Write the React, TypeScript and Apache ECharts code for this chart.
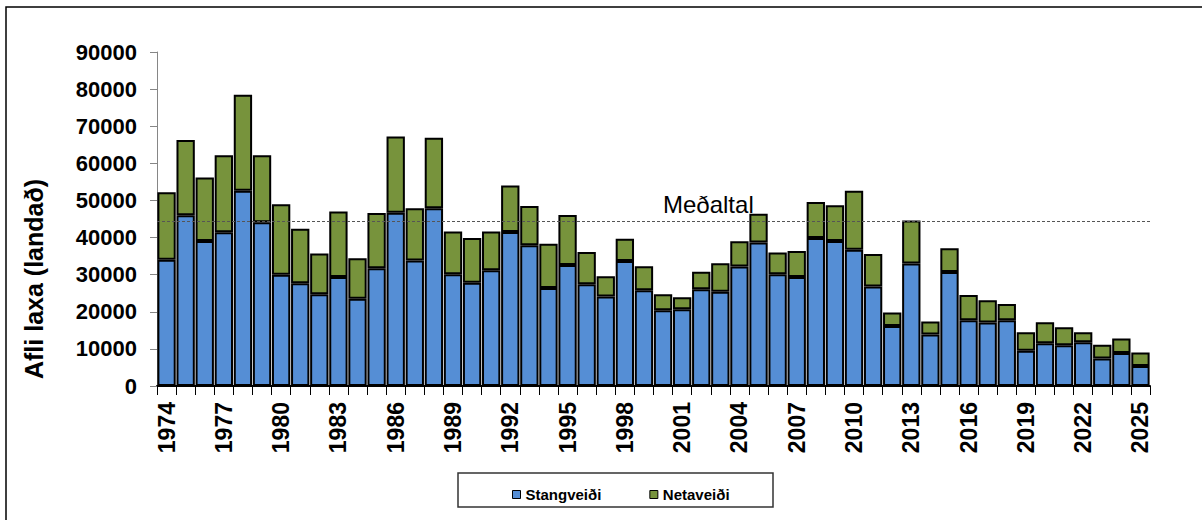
import React, { useEffect, useRef } from "react";
import * as echarts from "echarts";

const years = [
  "1974","1975","1976","1977","1978","1979","1980","1981","1982","1983",
  "1984","1985","1986","1987","1988","1989","1990","1991","1992","1993",
  "1994","1995","1996","1997","1998","1999","2000","2001","2002","2003",
  "2004","2005","2006","2007","2008","2009","2010","2011","2012","2013",
  "2014","2015","2016","2017","2018","2019","2020","2021","2022","2023",
  "2024","2025",
];

const stangveidi = [
  34000, 46000, 39100, 41400, 52600, 44100, 30000, 27700, 24700, 29400,
  23500, 31700, 46700, 33800, 47900, 30100, 27800, 31200, 41500, 37900,
  26400, 32600, 27400, 24100, 33700, 25800, 20400, 20700, 26100, 25400,
  32200, 38700, 30100, 29400, 39900, 39100, 36700, 26800, 16200, 33000,
  13900, 30700, 17700, 17100, 17700, 9500, 11500, 11000, 11800, 7400,
  8900, 5400,
];

const netaveidi = [
  18200, 20300, 17100, 20800, 25900, 18100, 19000, 14700, 11000, 17600,
  10900, 14900, 20500, 14100, 19000, 11500, 12100, 10400, 12500, 10600,
  11900, 13500, 8700, 5500, 6000, 6500, 4300, 3200, 4700, 7700,
  6800, 7700, 5900, 7000, 9700, 9600, 15900, 8800, 3600, 11600,
  3500, 6400, 6800, 6000, 4400, 5000, 5700, 4800, 2700, 3700,
  3900, 3600,
];

const medaltal = 44500;

const FONT = "Arial, 'Liberation Sans', sans-serif";

export default function App() {
  const ref = useRef<HTMLDivElement>(null);

  useEffect(() => {
    if (!ref.current) return;
    const chart = echarts.init(ref.current, undefined, { renderer: "svg" });
    chart.setOption({
      animation: false,
      backgroundColor: "#ffffff",
      textStyle: { fontFamily: FONT },
      grid: { left: 157, right: 52, top: 52, bottom: 134 },
      legend: {
        left: 507,
        top: 482,
        itemWidth: 8,
        itemHeight: 8,
        itemGap: 48,
        icon: "rect",
        itemStyle: { borderColor: "#000", borderWidth: 1 },
        textStyle: { fontFamily: FONT, fontSize: 15, fontWeight: "bold", color: "#000" },
        data: ["Stangveiði", "Netaveiði"],
      },
      xAxis: {
        type: "category",
        data: years,
        boundaryGap: true,
        axisLine: { lineStyle: { color: "#000", width: 2 } },
        axisTick: { show: true, interval: 0, length: 9, lineStyle: { color: "#000", width: 1 } },
        axisLabel: {
          interval: 2,
          rotate: 90,
          margin: 16,
          fontSize: 23,
          fontWeight: "bold",
          color: "#000",
          fontFamily: FONT,
        },
      },
      yAxis: {
        type: "value",
        min: 0,
        max: 90000,
        interval: 10000,
        splitLine: { show: false },
        axisLine: { show: true, lineStyle: { color: "#868686", width: 1 } },
        axisTick: { show: true, length: 7, lineStyle: { color: "#868686", width: 1 } },
        axisLabel: {
          margin: 20,
          fontSize: 22,
          fontWeight: "bold",
          color: "#000",
          fontFamily: FONT,
          formatter: (v: number) => String(v),
        },
      },
      series: [
        {
          name: "Stangveiði",
          type: "bar",
          stack: "afli",
          data: stangveidi,
          barCategoryGap: "4%",
          itemStyle: { color: "#558ED5", borderColor: "#000", borderWidth: 2 },
        },
        {
          name: "Netaveiði",
          type: "bar",
          stack: "afli",
          data: netaveidi,
          barCategoryGap: "4%",
          itemStyle: { color: "#77933C", borderColor: "#000", borderWidth: 2 },
          markLine: {
            silent: true,
            symbol: ["none", "none"],
            label: { show: false },
            lineStyle: { color: "#555", type: [3, 2], width: 1 },
            data: [{ yAxis: medaltal }],
          },
        },
      ],
      graphic: [
        {
          type: "rect",
          shape: { x: 6, y: 7, width: 1400, height: 700 },
          style: { fill: "none", stroke: "#000", lineWidth: 1.5 },
          silent: true,
        },
        {
          type: "text",
          x: 34,
          y: 279,
          rotation: Math.PI / 2,
          style: {
            text: "Afli laxa (landað)",
            font: `bold 25px ${FONT}`,
            fill: "#000",
            align: "center",
            verticalAlign: "middle",
          },
        },
        {
          type: "text",
          x: 663,
          y: 216,
          z: -1,
          style: {
            text: "Meðaltal",
            font: `24px ${FONT}`,
            fill: "#000",
            align: "left",
            verticalAlign: "bottom",
          },
        },
        {
          type: "rect",
          shape: { x: 458, y: 473, width: 315, height: 34 },
          style: { fill: "none", stroke: "#333", lineWidth: 1.5 },
          silent: true,
        },
      ],
    });
    return () => chart.dispose();
  }, []);

  return (
    <div
      ref={ref}
      style={{ position: "fixed", left: 0, top: 0, width: 1202, height: 520 }}
    />
  );
}
